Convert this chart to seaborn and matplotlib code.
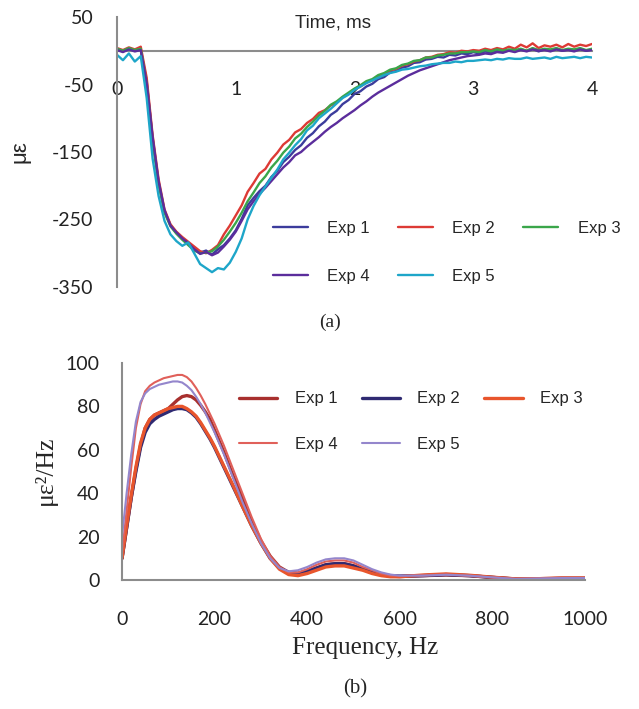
import numpy as np
import pandas as pd
import matplotlib
matplotlib.use("Agg")
import matplotlib.pyplot as plt
import seaborn as sns

# ---- data: (a) strain vs time ----
time_ms = np.round(np.arange(0, 4.001, 0.05), 2)

exp1_strain = [2, -1, 3, 0, 2, -45, -130, -195, -238, -258, -270, -279, -286, -293, -299, -296, -302, -294, -288, -278,
               -266, -249, -229, -218, -208, -200, -187, -178, -165, -157, -147, -140, -129, -122, -112, -105, -95, -89, -79, -73,
               -64, -60, -53, -49, -42, -39, -32, -30, -25, -23, -18, -17, -13, -12, -9, -10, -6, -7, -4, -5,
               -2, -4, -1, -3, 0, -2, 1, -1, 2, 0, 3, -1, 2, 1, 3, 0, 2, 1, 3, 0, 2]
exp2_strain = [4, 1, 5, 2, 6, -40, -125, -190, -235, -257, -268, -276, -283, -290, -297, -300, -295, -288, -272, -259,
               -244, -229, -209, -196, -182, -175, -161, -151, -139, -132, -121, -116, -107, -101, -92, -88, -81, -77, -69, -64,
               -57, -53, -47, -44, -38, -35, -29, -27, -22, -20, -16, -14, -10, -9, -6, -5, -2, -3, 0, -1,
               1, 0, 3, 1, 4, 2, 6, 3, 9, 5, 11, 4, 8, 6, 9, 5, 10, 6, 9, 7, 10]
exp3_strain = [3, 0, 4, 1, 3, -50, -135, -198, -240, -260, -271, -280, -288, -296, -300, -299, -297, -290, -280, -268,
               -255, -240, -223, -210, -196, -186, -173, -163, -151, -142, -130, -123, -113, -105, -96, -89, -80, -75, -68, -62,
               -56, -51, -45, -42, -36, -33, -28, -26, -21, -19, -15, -14, -10, -10, -7, -6, -4, -4, -2, -2,
               -1, -2, 1, -1, 2, 0, 2, 1, 3, 0, 4, 1, 3, 2, 4, 1, 3, 2, 4, 1, 3]
exp4_strain = [1, -2, 2, -1, 1, -48, -128, -193, -236, -259, -269, -278, -285, -294, -301, -298, -303, -299, -290, -280,
               -268, -252, -235, -223, -212, -203, -193, -183, -173, -165, -155, -150, -142, -135, -128, -120, -113, -107, -100, -94,
               -88, -81, -75, -68, -62, -57, -52, -47, -42, -37, -33, -29, -26, -23, -20, -17, -14, -12, -10, -8,
               -7, -6, -4, -5, -2, -3, 0, -2, 1, -1, 2, 0, 1, -1, 2, 0, 1, -1, 2, 0, 1]
exp5_strain = [-6, -14, -4, -16, -8, -70, -160, -215, -252, -272, -282, -289, -284, -300, -316, -322, -328, -322, -324, -314,
               -298, -278, -250, -230, -214, -201, -188, -176, -161, -151, -140, -131, -118, -111, -100, -93, -86, -78, -70, -65,
               -58, -53, -48, -44, -40, -36, -33, -31, -28, -27, -25, -23, -22, -20, -19, -18, -18, -16, -17, -15,
               -15, -14, -13, -14, -12, -13, -11, -12, -12, -10, -12, -11, -10, -12, -9, -11, -10, -9, -11, -9, -10]

# ---- data: (b) PSD vs frequency ----
freq_hz = [0, 10, 20, 30, 40, 50, 60, 70, 80, 90, 100, 110, 120, 130, 140, 150, 160, 170, 180, 190, 200,
           220, 240, 260, 280, 300, 320, 340, 360, 380, 400, 420, 440, 460, 480, 500, 520, 540, 560, 580, 600,
           650, 700, 750, 800, 850, 900, 950, 1000]
exp1_psd = [10, 24, 38, 51, 62, 70, 74, 76, 77, 78, 79, 81, 83, 84.5, 85, 84.5, 83, 80.5, 77.5, 74, 69,
            59, 48, 38, 27, 18, 11, 6, 3.5, 3, 4, 5.5, 7, 7.5, 7.5, 6.5, 5, 3.5, 2.5, 1.8, 1.6,
            2, 2.3, 2, 1.2, 0.5, 0.6, 0.8, 0.8]
exp2_psd = [10, 24, 38, 50, 61, 68, 72, 74, 75.5, 76.5, 77.5, 78.5, 79, 79, 78.5, 77, 75, 72, 68.5, 65, 61,
            52, 43, 34, 25, 17, 10, 5.5, 3.5, 3, 4, 5.5, 7, 7.5, 7.5, 6.5, 5, 3.5, 2.5, 2, 1.8,
            2, 2.5, 2, 1.2, 0.4, 0.5, 0.7, 0.7]
exp3_psd = [10, 25, 39, 52, 63, 70, 74, 76, 77, 78, 79, 79.5, 80, 80, 79, 77.5, 75.5, 72.5, 69, 65.5, 61.5,
            52.5, 43.5, 34, 25, 17, 10, 5, 2.5, 2, 3, 4.5, 6, 6.5, 6.5, 5.5, 4.5, 3, 2, 1.5, 1.5,
            2.3, 2.8, 2.2, 1.3, 0.5, 0.6, 0.9, 0.9]
exp4_psd = [12, 32, 52, 70, 81, 87, 89.5, 91, 92, 93, 93.5, 94, 94.5, 94.5, 93.5, 91.5, 88.5, 85, 81, 76.5, 72,
            62, 51, 40, 29, 19, 11, 6, 3.5, 3.5, 5, 7, 8.5, 9, 9, 8, 6, 4.5, 3, 2, 1.8,
            2.2, 2.6, 2, 1.2, 0.6, 0.8, 1, 1]
exp5_psd = [20, 40, 58, 73, 82, 86, 88, 89, 90, 90.5, 91, 91.5, 91.5, 91, 89.5, 87.5, 84.5, 81, 77, 72.5, 68,
            58, 47, 36, 26, 17, 10, 5.5, 4, 4.5, 6, 8, 9.5, 10, 10, 9, 7, 5, 3.5, 2.5, 2,
            2, 2.4, 2, 1.2, 0.5, 0.7, 0.9, 0.9]

labels = ["Exp 1", "Exp 2", "Exp 3", "Exp 4", "Exp 5"]
colors_a = ["#3c3c9c", "#dd3a35", "#3aa64a", "#5b2d9c", "#1ea6c9"]
colors_b = ["#a8302e", "#2f2a72", "#e8552c", "#e0605a", "#9486cc"]
widths_b = [2.4, 2.4, 2.4, 1.5, 1.5]

strain = pd.DataFrame({"t": np.tile(time_ms, 5),
                       "v": np.concatenate([exp1_strain, exp2_strain, exp3_strain, exp4_strain, exp5_strain]),
                       "exp": np.repeat(labels, len(time_ms))})
psd = pd.DataFrame({"f": np.tile(freq_hz, 5),
                    "v": np.concatenate([exp1_psd, exp2_psd, exp3_psd, exp4_psd, exp5_psd]),
                    "exp": np.repeat(labels, len(freq_hz))})

sns.set_style("white")
plt.rcParams["font.family"] = ["Lato", "DejaVu Sans"]

W, H = 639, 709
fig = plt.figure(figsize=(W / 100, H / 100), dpi=100)

def box(l, t, r, b):
    return [l / W, 1 - b / H, (r - l) / W, (b - t) / H]

grey = "#8c8c8c"
legfont = {"family": "Liberation Sans", "size": 12}
order = [0, 3, 1, 4, 2]   # row-wise legend: Exp1 Exp2 Exp3 / Exp4 Exp5

# ---------- (a) ----------
ax1 = fig.add_axes(box(117, 17, 592, 287))
for i, lab in enumerate(labels):
    sns.lineplot(data=strain[strain.exp == lab], x="t", y="v", color=colors_a[i],
                 linewidth=1.7, label=lab, ax=ax1, legend=False)
ax1.set(xlim=(0, 4), ylim=(-350, 50), xticks=[0, 1, 2, 3, 4],
        yticks=[-350, -250, -150, -50, 50], xlabel="", ylabel="")
for s in ["top", "right"]:
    ax1.spines[s].set_visible(False)
ax1.spines["bottom"].set_position(("data", 0))
for s in ["bottom", "left"]:
    ax1.spines[s].set_color(grey)
    ax1.spines[s].set_linewidth(1.5)
ax1.spines["bottom"].set_zorder(0)
ax1.tick_params(axis="x", length=0, pad=22, labelsize=14, colors="#222222")
ax1.tick_params(axis="y", length=0, pad=17, labelsize=14, colors="#222222")
ax1.set_yticklabels(["-350", "-250", "-150", "-50", "50"])

h, l = ax1.get_legend_handles_labels()
ax1.legend([h[k] for k in order], [l[k] for k in order], ncol=3, frameon=False,
           loc="center left", bbox_to_anchor=(273 / W, 1 - 252.5 / H), bbox_transform=fig.transFigure,
           prop=legfont, handlelength=2.1, handletextpad=1.15, columnspacing=1.7,
           labelspacing=1.95, borderpad=0, borderaxespad=0)

fig.text(333 / W, 1 - 23 / H, "Time, ms", ha="center", va="center",
         fontsize=13.5, family="Liberation Sans")
fig.text(20 / W, 1 - 152 / H, "με", ha="center", va="center", rotation=90,
         fontsize=16, family="Liberation Sans")
fig.text(330 / W, 1 - 322 / H, "(a)", ha="center", va="center",
         fontsize=14, family="Liberation Serif")

# ---------- (b) ----------
ax2 = fig.add_axes(box(122, 363, 585, 580))
for i, lab in enumerate(labels):
    sns.lineplot(data=psd[psd.exp == lab], x="f", y="v", color=colors_b[i],
                 linewidth=widths_b[i], label=lab, ax=ax2, legend=False)
ax2.set(xlim=(0, 1000), ylim=(0, 100), xticks=range(0, 1001, 200),
        yticks=range(0, 101, 20), xlabel="", ylabel="")
for s in ["top", "right"]:
    ax2.spines[s].set_visible(False)
for s in ["bottom", "left"]:
    ax2.spines[s].set_color(grey)
    ax2.spines[s].set_linewidth(1.5)
ax2.tick_params(axis="x", length=0, pad=22, labelsize=14, colors="#222222")
ax2.tick_params(axis="y", length=0, pad=16, labelsize=14, colors="#222222")

h, l = ax2.get_legend_handles_labels()
ax2.legend([h[k] for k in order], [l[k] for k in order], ncol=3, frameon=False,
           loc="center left", bbox_to_anchor=(239 / W, 1 - 421.5 / H), bbox_transform=fig.transFigure,
           prop=legfont, handlelength=2.3, handletextpad=1.05, columnspacing=1.45,
           labelspacing=1.8, borderpad=0, borderaxespad=0)

fig.text(45 / W, 1 - 470 / H, "με²/Hz", ha="center", va="center", rotation=90,
         fontsize=18.5, family="Liberation Serif")
fig.text(365 / W, 1 - 648 / H, "Frequency, Hz", ha="center", va="center",
         fontsize=18, family="Liberation Serif")
fig.text(355 / W, 1 - 689 / H, "(b)", ha="center", va="center",
         fontsize=15, family="Liberation Serif")

fig.savefig("out.png", dpi=100, facecolor="white")
